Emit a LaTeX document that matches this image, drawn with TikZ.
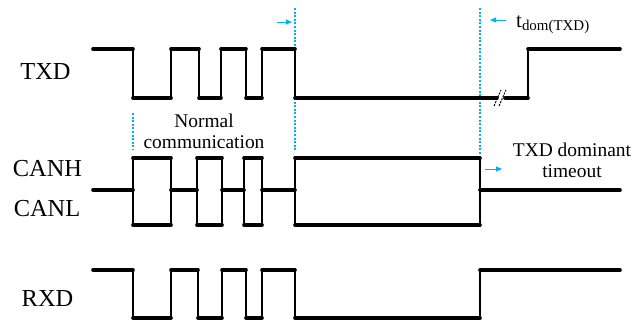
\documentclass[tikz,border=0pt]{standalone}
\usepackage{fontspec}
\setmainfont{Liberation Serif}
\definecolor{skyblue}{RGB}{0,176,240}
\tikzset{
  level/.style={line width=3.6bp, line cap=round},
  edge/.style={line width=2bp},
  marker/.style={color=skyblue, line width=1.4bp, dash pattern={on 2bp off 1.6bp}},
  pointer/.style={color=skyblue, line width=0.8bp, -{Triangle[length=6bp,width=5bp]}},
  siglabel/.style={font=\fontsize{24.5}{28}\selectfont},
  note/.style={font=\fontsize{19.5}{21}\selectfont, align=center},
}
\usetikzlibrary{arrows.meta}
\begin{document}
\begin{tikzpicture}[x=1bp,y=1bp,yscale=-1]
\useasboundingbox (0,0) rectangle (633,320);

%Blue dotted markers
\draw [marker] (133,113) -- (133,150) ;
\draw [marker] (295,8) -- (295,150) ;
\draw [marker] (480,8) -- (480,160) ;

%TXD wave: edges
\foreach \x in {133,171,199,221,246,262,295,528}
  \draw [edge] (\x,49) -- (\x,98) ;
%TXD wave: levels
\foreach \a/\b/\y in {93/133/49,133/171/98,171/199/49,199/221/98,221/246/49,246/262/98,262/295/49,295/497/98,505/528/98,528/620/49}
  \draw [level] (\a,\y) -- (\b,\y) ;
%break mark
\draw [line width=1bp, dash pattern={on 2pt off 1.2pt}] (494,106) -- (501,90) (499,106) -- (506,90) ;

%CANH / CANL wave: edges
\foreach \x in {133,171,197,222,244,262,295,480}
  \draw [edge] (\x,158) -- (\x,225) ;
%CANH / CANL wave: recessive
\foreach \a/\b in {93/133,171/197,222/244,262/295,480/620}
  \draw [level] (\a,190) -- (\b,190) ;
%CANH / CANL wave: dominant
\foreach \a/\b in {133/171,197/222,244/262,295/480}
  \draw [level] (\a,158) -- (\b,158) (\a,225) -- (\b,225) ;

%RXD wave: edges
\foreach \x in {133,171,198,222,246,262,295,480}
  \draw [edge] (\x,270) -- (\x,318) ;
%RXD wave: levels
\foreach \a/\b/\y in {93/133/270,133/171/318,171/198/270,198/222/318,222/246/270,246/262/318,262/295/270,295/480/318,480/620/270}
  \draw [level] (\a,\y) -- (\b,\y) ;

%Blue arrows
\coordinate (p1) at (277,22);
\coordinate (p2) at (292,22);
\coordinate (p3) at (506,20);
\coordinate (p4) at (490,20);
\coordinate (p5) at (485,169);
\coordinate (p6) at (502,169);
\draw [pointer] (p1) -- (p2) ;
\draw [pointer] (p3) -- (p4) ;
\draw [pointer] (p5) -- (p6) ;

% Text Node
\node [siglabel] (txd) at (45.5,72) {TXD};
% Text Node
\node [siglabel] (canh) at (47.5,169) {CANH};
% Text Node
\node [siglabel] (canl) at (47,209) {CANL};
% Text Node
\node [siglabel] (rxd) at (47.5,299) {RXD};
% Text Node
\node [note] (normal) at (204,131) {Normal\\communication};
% Text Node
\node [note] (timeout) at (572,160) {TXD dominant\\timeout};
% Text Node
\node [anchor=base west, inner sep=0pt, font=\fontsize{21}{24}\selectfont] (tdom) at (516,27)
  {t\raisebox{-3bp}{\fontsize{15}{17}\selectfont dom(TXD)}};

\end{tikzpicture}
\end{document}
